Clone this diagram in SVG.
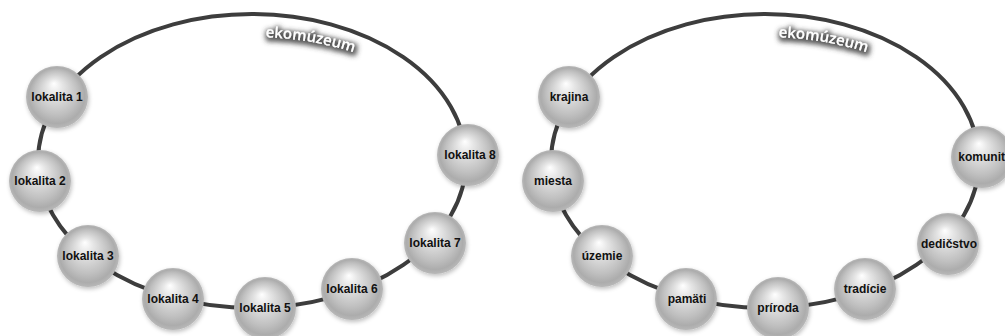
<svg xmlns="http://www.w3.org/2000/svg" width="1005" height="336" viewBox="0 0 1005 336">
<defs>
<radialGradient id="sph" cx="0.5" cy="0.5" r="0.5" fx="0.45" fy="0.28">
<stop offset="0" stop-color="#ffffff"/>
<stop offset="0.25" stop-color="#e6e6e6"/>
<stop offset="0.7" stop-color="#c0c0c0"/>
<stop offset="0.9" stop-color="#acacac"/>
<stop offset="1" stop-color="#b8b8b8"/>
</radialGradient>
<filter id="sh" x="-30%" y="-30%" width="160%" height="160%">
<feGaussianBlur in="SourceAlpha" stdDeviation="2"/>
<feOffset dx="1" dy="2" result="b"/>
<feFlood flood-color="#000" flood-opacity="0.25"/>
<feComposite in2="b" operator="in"/>
<feMerge><feMergeNode/><feMergeNode in="SourceGraphic"/></feMerge>
</filter>
<filter id="glow" x="-30%" y="-60%" width="160%" height="220%">
<feMorphology in="SourceAlpha" operator="dilate" radius="2" result="d"/>
<feGaussianBlur in="d" stdDeviation="2.5"/>
<feOffset dx="1" dy="2" result="b"/>
<feFlood flood-color="#3c3c3c" flood-opacity="0.85"/>
<feComposite in2="b" operator="in"/>
<feMerge><feMergeNode/><feMergeNode in="SourceGraphic"/></feMerge>
</filter>
<path id="arcL" d="M 42 161 A 210 124 0 0 1 462 161"/>
<path id="arcR" d="M 555 161 A 210 124 0 0 1 975 161"/>
</defs>
<style>
.ring{fill:none;stroke:#3d3d3d;stroke-width:4}
.ball{fill:url(#sph);filter:url(#sh)}
.lbl{font-family:"Liberation Sans",Arial,sans-serif;font-weight:bold;font-size:12px;fill:#111;text-anchor:middle}
.eko{font-family:"Open Sans","Liberation Sans",sans-serif;font-size:15px;fill:#fff;font-weight:600}
</style>
<g id="connectors">
<ellipse class="ring" cx="252" cy="161" rx="214" ry="147"/>
<ellipse class="ring" cx="765" cy="161" rx="214" ry="147"/>
</g>
<g id="title-left"><text class="eko" filter="url(#glow)"><textPath href="#arcL" startOffset="280">ekomúzeum</textPath></text></g>
<g id="title-right"><text class="eko" filter="url(#glow)"><textPath href="#arcR" startOffset="280">ekomúzeum</textPath></text></g>
<g id="lokalita1"><circle class="ball" cx="57" cy="97" r="31"/><text class="lbl" x="57" y="101">lokalita 1</text></g>
<g id="lokalita2"><circle class="ball" cx="40" cy="181" r="31"/><text class="lbl" x="40" y="185">lokalita 2</text></g>
<g id="lokalita3"><circle class="ball" cx="88" cy="256" r="31"/><text class="lbl" x="88" y="260">lokalita 3</text></g>
<g id="lokalita4"><circle class="ball" cx="173" cy="299" r="31"/><text class="lbl" x="173" y="303">lokalita 4</text></g>
<g id="lokalita5"><circle class="ball" cx="265" cy="308" r="31"/><text class="lbl" x="265" y="312">lokalita 5</text></g>
<g id="lokalita6"><circle class="ball" cx="352" cy="289" r="31"/><text class="lbl" x="352" y="293">lokalita 6</text></g>
<g id="lokalita7"><circle class="ball" cx="435" cy="243" r="31"/><text class="lbl" x="435" y="247">lokalita 7</text></g>
<g id="lokalita8"><circle class="ball" cx="468" cy="155" r="31"/><text class="lbl" x="470" y="159">lokalita 8</text></g>
<g id="krajina"><circle class="ball" cx="569" cy="97" r="31"/><text class="lbl" x="569" y="101">krajina</text></g>
<g id="miesta"><circle class="ball" cx="553" cy="181" r="31"/><text class="lbl" x="553" y="185">miesta</text></g>
<g id="uzemie"><circle class="ball" cx="602" cy="256" r="31"/><text class="lbl" x="602" y="260">územie</text></g>
<g id="pamati"><circle class="ball" cx="686" cy="299" r="31"/><text class="lbl" x="687" y="303">pamäti</text></g>
<g id="priroda"><circle class="ball" cx="778" cy="308" r="31"/><text class="lbl" x="778" y="312">príroda</text></g>
<g id="tradicie"><circle class="ball" cx="865" cy="289" r="31"/><text class="lbl" x="865" y="293">tradície</text></g>
<g id="dedicstvo"><circle class="ball" cx="948" cy="244" r="31"/><text class="lbl" x="949" y="248">dedičstvo</text></g>
<g id="komunita"><circle class="ball" cx="982" cy="157" r="31"/><text class="lbl" x="985" y="161">komunita</text></g>
</svg>
